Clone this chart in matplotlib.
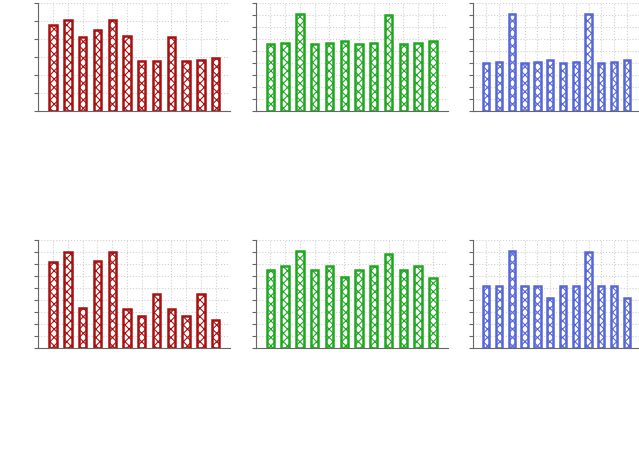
import numpy as np
import matplotlib
matplotlib.use('Agg')
import matplotlib.pyplot as plt

positions = np.arange(1, 13)

top_red = [4.80, 5.07, 4.13, 4.48, 5.04, 4.19, 2.78, 2.80, 4.09, 2.80, 2.83, 2.93]
top_green = [5.61, 5.67, 8.06, 5.61, 5.67, 5.86, 5.61, 5.67, 7.97, 5.61, 5.67, 5.86]
top_blue = [4.00, 4.06, 8.11, 4.00, 4.06, 4.22, 4.00, 4.06, 8.08, 4.00, 4.06, 4.22]
bot_red = [7.17, 8.03, 3.33, 7.25, 8.06, 3.31, 2.72, 4.50, 3.31, 2.72, 4.50, 2.36]
bot_green = [6.56, 6.83, 8.08, 6.56, 6.89, 5.92, 6.56, 6.89, 7.86, 6.56, 6.89, 5.89]
bot_blue = [5.22, 5.22, 8.08, 5.22, 5.22, 4.22, 5.22, 5.22, 8.03, 5.22, 5.22, 4.22]

red = '#a81010'
green = '#1fa81f'
blue = '#5566d8'

plt.rcParams['hatch.linewidth'] = 0.8

fig = plt.figure(figsize=(6.39, 4.6), dpi=100)

lefts = [0.060, 0.400, 0.741]
widths = [0.3005, 0.3005, 0.260]
bottoms = [0.7565, 0.2407]
h = 0.2348

panels = [
    (top_red, red, 6, 0, 0),
    (top_green, green, 9, 1, 0),
    (top_blue, blue, 9, 2, 0),
    (bot_red, red, 9, 0, 1),
    (bot_green, green, 9, 1, 1),
    (bot_blue, blue, 9, 2, 1),
]

for vals, col, ymax, c, r in panels:
    ax = fig.add_axes([lefts[c], bottoms[r], widths[c], h])
    ax.bar(positions, vals, width=0.5, color='white', edgecolor=col,
           hatch='xxxx', linewidth=1.8, zorder=3)
    ax.set_xlim(0, 13)
    ax.set_ylim(0, ymax)
    ax.set_xticks(np.arange(0, 14))
    ax.set_yticks(np.arange(0, ymax + 1))
    ax.set_xticklabels([])
    ax.set_yticklabels([])
    ax.tick_params(axis='x', length=0)
    ax.tick_params(axis='y', length=3, color='#666666', direction='out')
    ax.grid(True, linestyle=':', color='#d0d0d0', linewidth=0.8, zorder=0)
    ax.spines['top'].set_visible(False)
    ax.spines['right'].set_visible(False)
    ax.spines['left'].set_color('#666666')
    ax.spines['bottom'].set_color('#666666')
    ax.set_axisbelow(True)

plt.savefig('out.png')
